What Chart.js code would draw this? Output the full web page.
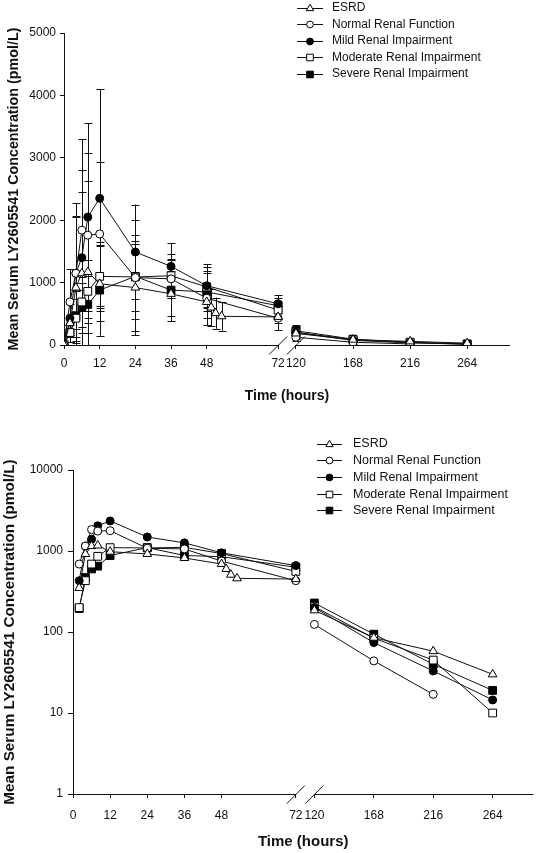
<!DOCTYPE html>
<html>
<head>
<meta charset="utf-8">
<script src="https://cdn.jsdelivr.net/npm/chart.js@4/dist/chart.umd.min.js"></script>
<style>
  html, body { margin: 0; padding: 0; background: #fff; }
  #top { position: absolute; left: 0; top: 0; width: 540px; height: 410px; }
  #bottom { position: absolute; left: 0; top: 420px; width: 540px; height: 433px; }
</style>
</head>
<body>
<div id="top"><canvas id="linChart"></canvas></div>
<div id="bottom"><canvas id="logChart"></canvas></div>
<script>
// sampling times (hours); ESRD has extra samples around dialysis
var TIMES = [0, 2, 4, 6, 8, 12, 24, 36, 48, 72, 120, 168, 216, 264];
var ESRD_TIMES = [0, 2, 4, 6, 8, 12, 24, 36, 48, 49.5, 51, 53, 72, 120, 168, 216, 264];
var X_TICKS = [0, 12, 24, 36, 48, 72, 120, 168, 216, 264];

// mean concentrations (pmol/L) and SDs
var ESRD = [0, 350, 920, 1150, 1170, 980, 920, 820, 690, 600, 510, 460, 450, 185, 85, 58, 30];
var ESRD_SD = [0, 300, 1150, 1300, 1460, 600, 700, 360, 250, 300, 250, 230, 100, 80, 30, 20, 10];
var NORMAL = [0, 690, 1150, 1840, 1760, 1780, 1080, 1060, 750, 430, 124, 44, 17, null];
var NORMAL_SD = [0, 530, 900, 960, 1320, 1150, 920, 300, 430, 190, 60, 20, 8, null];
var MILD = [0, 430, 1150, 1400, 2050, 2350, 1490, 1260, 950, 660, 200, 74, 33, 14.5];
var MILD_SD = [0, 300, 1120, 1900, 1500, 1750, 760, 370, 350, 140, 100, 30, 15, 8];
var MODERATE = [0, 200, 430, 690, 860, 1100, 1090, 1110, 930, 560, 205, 84, 45, 10];
var MODERATE_SD = [0, 150, 300, 400, 500, 550, 680, 350, 320, 140, 80, 40, 20, 5];
var SEVERE = [0, 195, 470, 600, 650, 880, 1100, 880, 850, 630, 228, 94, 40, 19];
var SEVERE_SD = [0, 150, 400, 400, 450, 730, 560, 500, 300, 120, 90, 30, 15, 8];

var LOG_TICKS = [1, 10, 100, 1000, 10000];

var FONT = "'Liberation Sans', Arial, sans-serif";
var INK = "#111";

// broken x axis: 72 -> 120 gap, later part compressed
var BREAK_LO = 72, BREAK_HI = 120, BREAK_GAP = 6, AFTER_SCALE = 0.4;
function axisPos(t) {
  return t <= BREAK_LO ? t : BREAK_LO + BREAK_GAP + (t - BREAK_HI) * AFTER_SCALE;
}

var SERIES = [
  { label: "ESRD", times: ESRD_TIMES, values: ESRD, sd: ESRD_SD, style: "triangle", fill: "#fff", radius: 5 },
  { label: "Normal Renal Function", times: TIMES, values: NORMAL, sd: NORMAL_SD, style: "circle", fill: "#fff", radius: 4 },
  { label: "Mild Renal Impairment", times: TIMES, values: MILD, sd: MILD_SD, style: "circle", fill: "#000", radius: 4 },
  { label: "Moderate Renal Impairment", times: TIMES, values: MODERATE, sd: MODERATE_SD, style: "rect", fill: "#fff", radius: 5.5 },
  { label: "Severe Renal Impairment", times: TIMES, values: SEVERE, sd: SEVERE_SD, style: "rect", fill: "#000", radius: 5.5 }
];

function buildDatasets(logScale) {
  return SERIES.map(function (s) {
    var pts = [];
    s.times.forEach(function (t, i) {
      var v = s.values[i];
      if (v === null) return;
      if (logScale && v <= 0) return;
      pts.push({ x: axisPos(t), y: v, sd: s.sd[i] });
    });
    return {
      label: s.label,
      data: pts,
      borderColor: INK,
      borderWidth: 1,
      pointStyle: s.style,
      pointRadius: s.radius,
      pointBackgroundColor: s.fill,
      pointBorderColor: "#000",
      pointBorderWidth: 1,
      tension: 0,
      segment: {
        borderColor: function (ctx) {
          return ctx.p0.parsed.x <= BREAK_LO && ctx.p1.parsed.x > BREAK_LO ? "rgba(0,0,0,0)" : INK;
        }
      }
    };
  });
}

var errorBars = {
  id: "errorBars",
  beforeDatasetsDraw: function (chart) {
    var ctx = chart.ctx, xs = chart.scales.x, ys = chart.scales.y, area = chart.chartArea;
    ctx.save();
    ctx.beginPath();
    ctx.rect(area.left, area.top - 2, area.right - area.left, area.bottom - area.top + 2);
    ctx.clip();
    ctx.strokeStyle = INK;
    ctx.lineWidth = 1;
    chart.data.datasets.forEach(function (ds) {
      ds.data.forEach(function (p) {
        if (!p.sd) return;
        var x = Math.round(xs.getPixelForValue(p.x)) + 0.5;
        var yHi = ys.getPixelForValue(p.y + p.sd);
        var lo = p.y - p.sd;
        var yLo = ys.getPixelForValue(Math.max(lo, 0));
        ctx.beginPath();
        ctx.moveTo(x, yHi);
        ctx.lineTo(x, yLo);
        ctx.moveTo(x - 4, Math.round(yHi) + 0.5);
        ctx.lineTo(x + 4, Math.round(yHi) + 0.5);
        if (lo > 0) {
          ctx.moveTo(x - 4, Math.round(yLo) + 0.5);
          ctx.lineTo(x + 4, Math.round(yLo) + 0.5);
        }
        ctx.stroke();
      });
    });
    ctx.restore();
  }
};

var brokenAxis = {
  id: "brokenAxis",
  afterDraw: function (chart) {
    var ctx = chart.ctx, xs = chart.scales.x, area = chart.chartArea;
    var y = Math.round(area.bottom) + 0.5;
    var xLo = xs.getPixelForValue(axisPos(BREAK_LO));
    var xHi = xs.getPixelForValue(axisPos(BREAK_HI));
    ctx.save();
    ctx.strokeStyle = INK;
    ctx.lineWidth = 1;
    ctx.beginPath();
    ctx.moveTo(area.left, y);
    ctx.lineTo(xLo, y);
    ctx.moveTo(xHi, y);
    ctx.lineTo(area.right, y);
    [xLo, xHi].forEach(function (x) {
      ctx.moveTo(x - 9, y + 9);
      ctx.lineTo(x + 9, y - 9);
    });
    ctx.stroke();
    ctx.restore();
  }
};

function drawMarker(ctx, style, x, y, r, fill) {
  ctx.beginPath();
  if (style === "circle") {
    ctx.arc(x, y, r, 0, Math.PI * 2);
  } else if (style === "rect") {
    var h = r * Math.SQRT1_2;
    ctx.rect(x - h, y - h, 2 * h, 2 * h);
  } else {
    ctx.moveTo(x, y - r);
    ctx.lineTo(x + r * Math.sqrt(3) / 2, y + r / 2);
    ctx.lineTo(x - r * Math.sqrt(3) / 2, y + r / 2);
    ctx.closePath();
  }
  ctx.fillStyle = fill;
  ctx.fill();
  ctx.strokeStyle = "#000";
  ctx.lineWidth = 1;
  ctx.stroke();
}

function makeLegend(cfg) {
  return {
    id: "sideLegend",
    afterDraw: function (chart) {
      var ctx = chart.ctx;
      ctx.save();
      ctx.font = cfg.fontSize + "px " + FONT;
      ctx.textBaseline = "middle";
      ctx.textAlign = "left";
      SERIES.forEach(function (s, i) {
        var y = cfg.y0 + i * cfg.dy;
        ctx.strokeStyle = INK;
        ctx.lineWidth = 1;
        ctx.beginPath();
        ctx.moveTo(cfg.x0, Math.round(y) + 0.5);
        ctx.lineTo(cfg.x1, Math.round(y) + 0.5);
        ctx.stroke();
        drawMarker(ctx, s.style, (cfg.x0 + cfg.x1) / 2, Math.round(y) + 0.5, s.radius * 0.85, s.fill);
        ctx.fillStyle = INK;
        ctx.fillText(s.label, cfg.textX, y + 0.5);
      });
      ctx.restore();
    }
  };
}

function xAxis(maxU, height, titleSize, labelPad) {
  return {
    type: "linear",
    min: 0,
    max: maxU,
    border: { display: false },
    grid: { display: true, drawOnChartArea: false, drawTicks: true, tickLength: 4, color: INK },
    afterBuildTicks: function (scale) {
      scale.ticks = X_TICKS.map(function (t) { return { value: axisPos(t) }; });
    },
    afterFit: function (scale) { scale.height = height; },
    ticks: {
      autoSkip: false,
      maxRotation: 0,
      padding: labelPad,
      color: INK,
      font: { family: FONT, size: 12 },
      callback: function (value, i) { return String(X_TICKS[i]); }
    },
    title: {
      display: true,
      text: "Time (hours)",
      color: INK,
      padding: { top: 0, bottom: 0 },
      font: { family: FONT, size: titleSize, weight: "bold" }
    }
  };
}

function yTitle(size, pad) {
  return {
    display: true,
    text: "Mean Serum LY2605541 Concentration (pmol/L)",
    color: INK,
    padding: { top: pad, bottom: 0 },
    font: { family: FONT, size: size, weight: "bold" }
  };
}

Chart.defaults.font.family = FONT;
Chart.defaults.color = INK;

new Chart(document.getElementById("linChart"), {
  type: "line",
  data: { datasets: buildDatasets(false) },
  options: {
    responsive: true,
    maintainAspectRatio: false,
    animation: false,
    events: [],
    layout: { padding: { top: 33, right: 30, bottom: 5.6, left: 0 } },
    plugins: { legend: { display: false }, tooltip: { enabled: false } },
    scales: {
      x: xAxis(150, 59.4, 14, 7),
      y: {
        type: "linear",
        min: 0,
        max: 5000,
        border: { display: true, color: INK, width: 1 },
        grid: { display: true, drawOnChartArea: false, drawTicks: true, tickLength: 4, color: INK },
        afterFit: function (scale) { scale.width = 64; },
        ticks: {
          stepSize: 1000,
          padding: 4,
          color: INK,
          font: { family: FONT, size: 12 },
          callback: function (value) { return String(value); }
        },
        title: yTitle(14.3, 5.4)
      }
    }
  },
  plugins: [errorBars, brokenAxis, makeLegend({ x0: 297, x1: 323, textX: 332, y0: 7.5, dy: 16.5, fontSize: 12 })]
});

new Chart(document.getElementById("logChart"), {
  type: "line",
  data: { datasets: buildDatasets(true) },
  options: {
    responsive: true,
    maintainAspectRatio: false,
    animation: false,
    events: [],
    layout: { padding: { top: 50, right: 2, bottom: 2, left: 0 } },
    plugins: { legend: { display: false }, tooltip: { enabled: false } },
    scales: {
      x: xAxis(148.8, 57, 15, 10),
      y: {
        type: "logarithmic",
        min: 1,
        max: 10000,
        border: { display: true, color: INK, width: 1 },
        grid: { display: true, drawOnChartArea: false, drawTicks: true, tickLength: 5, color: INK },
        afterBuildTicks: function (scale) {
          scale.ticks = LOG_TICKS.map(function (v) { return { value: v }; });
        },
        afterFit: function (scale) { scale.width = 73; },
        ticks: {
          padding: 5,
          color: INK,
          font: { family: FONT, size: 12 },
          callback: function (value) { return String(value); }
        },
        title: yTitle(15.3, 1)
      }
    }
  },
  plugins: [brokenAxis, makeLegend({ x0: 317, x1: 342, textX: 353, y0: 23.5, dy: 16.7, fontSize: 12.5 })]
});
</script>
</body>
</html>
